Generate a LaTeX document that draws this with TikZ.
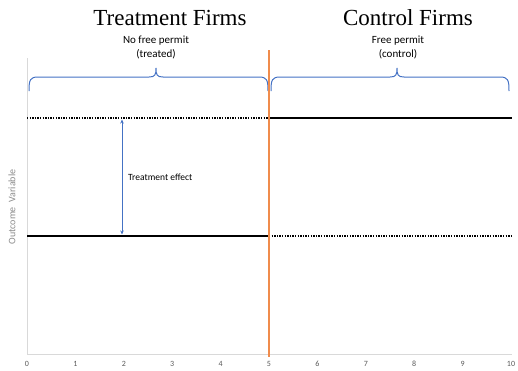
\documentclass[tikz,border=0pt]{standalone}
\usepackage{fontspec}
\setmainfont{Liberation Serif}
\newfontfamily\calib{Carlito}
\usetikzlibrary{arrows.meta}
\definecolor{bracec}{HTML}{4472C4}
\definecolor{orangec}{HTML}{F08C4C}
\definecolor{axisc}{HTML}{D9D9D9}
\definecolor{tickc}{HTML}{595959}
\definecolor{ylabc}{HTML}{8C8C8C}
\begin{document}
\begin{tikzpicture}[x=1pt,y=-1pt,
  title/.style={font=\fontsize{23}{26}\selectfont, inner sep=0pt},
  sub/.style={font=\calib\fontsize{11}{14}\selectfont, align=center, inner sep=0pt},
  ticklab/.style={font=\calib\fontsize{8}{9}\selectfont, text=tickc, inner sep=0pt},
  solidline/.style={line width=2.4pt, black},
  dotline/.style={line width=1.8pt, black, dash pattern=on 1.3pt off 1.3pt},
  bracestyle/.style={draw=bracec, line width=1pt},
  axisline/.style={draw=axisc, line width=0.8pt},
]
\useasboundingbox (0,0) rectangle (518,370);
% coordinates
\coordinate (o) at (27,354);
\coordinate (ytop) at (27,58);
\coordinate (xend) at (512,354);
\coordinate (vtop) at (269,50);
\coordinate (vbot) at (269,357);
\coordinate (ua) at (27,118);
\coordinate (ub) at (269,118);
\coordinate (uc) at (512,118);
\coordinate (la) at (27,236);
\coordinate (lb) at (269,236);
\coordinate (lc) at (511,236);
\coordinate (ea) at (122,119.5);
\coordinate (eb) at (122,234.5);
% axes
\draw[axisline] (ytop) -- (o) -- (xend);
% titles
\node[title] (t1) at (170,18) {Treatment Firms};
\node[title] (t2) at (408,18) {Control Firms};
\node[sub] (s1) at (156,47) {No free permit\\(treated)};
\node[sub] (s2) at (398,47) {Free permit\\(control)};
% braces
\draw[bracestyle] (29,91) .. controls (29,80) and (30,77) .. (38,77) -- (149,77)
  .. controls (155,77) and (156,75) .. (156,68)
  .. controls (156,75) and (157,77) .. (163,77) -- (259,77)
  .. controls (267,77) and (268,80) .. (268,91);
\draw[bracestyle] (271,91) .. controls (271,80) and (272,77) .. (280,77) -- (390,77)
  .. controls (396,77) and (397,75) .. (397,68)
  .. controls (397,75) and (398,77) .. (404,77) -- (500,77)
  .. controls (508,77) and (509,80) .. (509,91);
% lines
\draw[dotline] (ua) -- (ub);
\draw[solidline] (ub) -- (uc);
\draw[solidline] (la) -- (lb);
\draw[dotline] (lb) -- (lc);
% treatment effect
\draw[draw=bracec, line width=1pt, {Stealth[length=4pt,width=3.5pt]}-{Stealth[length=4pt,width=3.5pt]}] (ea) -- (eb);
\node[font=\calib\fontsize{9.5}{11}\selectfont, anchor=west, inner sep=0pt] (te) at (128,177) {Treatment effect};
% orange line
\draw[orangec, line width=1.3pt] (vtop) -- (vbot);
% y label
\node[font=\calib\fontsize{10}{12}\selectfont, text=ylabc, rotate=90, inner sep=0pt] (yl) at (12,207) {Outcome\ \ Variable};
% ticks
\foreach \i in {0,...,10} {
  \node[ticklab] (tk\i) at ({27+48.4*\i},364) {\i};
}
\end{tikzpicture}
\end{document}
